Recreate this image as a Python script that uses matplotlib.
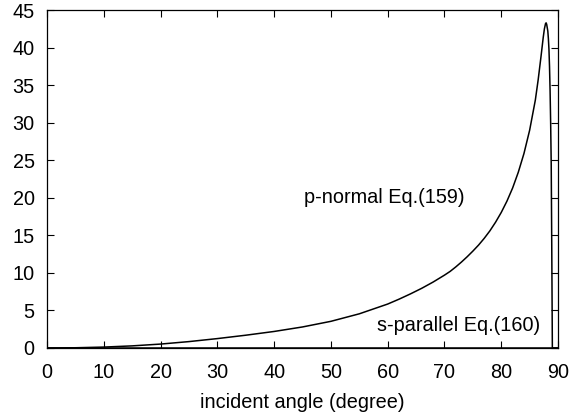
import matplotlib
matplotlib.use("Agg")
import matplotlib.pyplot as plt

plt.rcParams['font.family'] = ['Liberation Sans', 'DejaVu Sans']

# p-normal Eq.(159) values
p_angle = [0, 5, 10, 15, 20, 25, 30, 35, 40, 45, 50, 55, 60, 62, 64, 66, 68,
           70, 71, 72, 73, 74, 75, 76, 77, 78, 79, 80, 81, 82, 83, 84, 85, 86,
           86.5, 87.0, 87.4, 87.6, 87.8, 87.9, 88.0, 88.2, 88.3, 88.4, 88.5,
           88.6, 88.7, 88.8, 88.9, 89.0, 90]
p_value = [0, 0.03, 0.12, 0.28, 0.52, 0.85, 1.25, 1.7, 2.2, 2.8, 3.55, 4.55,
           5.85, 6.5, 7.2, 7.95, 8.78, 9.7, 10.2, 10.8, 11.45, 12.15, 12.9,
           13.7, 14.6, 15.6, 16.75, 18.05, 19.55, 21.3, 23.4, 25.9, 29.0, 33.0,
           35.7, 38.8, 41.4, 42.5, 43.2, 43.3, 43.1, 42.2, 41.2, 39.8, 37.5,
           34.3, 30.0, 24.5, 13.0, 0, 0]

# s-parallel Eq.(160) values (lie on the zero line)
s_angle = [0, 30, 60, 80, 85, 88, 89, 90]
s_value = [0, 0, 0, 0, 0, 0, 0, 0]

x_ticks = [0, 10, 20, 30, 40, 50, 60, 70, 80, 90]
y_ticks = [0, 5, 10, 15, 20, 25, 30, 35, 40, 45]

fig = plt.figure(figsize=(5.70, 4.19), dpi=100)
ax = fig.add_axes([0.0825, 0.1695, 0.8965, 0.8065])

ax.plot(p_angle, p_value, color='black', lw=1.1)
ax.plot(s_angle, s_value, color='black', lw=1.1)

ax.set_xlim(0, 90)
ax.set_ylim(0, 45)
ax.set_xticks(x_ticks)
ax.set_yticks(y_ticks)
ax.tick_params(direction='in', top=True, right=True, length=5, width=0.8,
               labelsize=14.3, colors='black')
ax.tick_params(axis='x', pad=11)
ax.tick_params(axis='y', pad=9)
for s in ax.spines.values():
    s.set_linewidth(0.9)

ax.set_xlabel('incident angle (degree)', fontsize=14.3, labelpad=8)

ax.text(73.6, 20, 'p-normal Eq.(159)', ha='right', va='center', fontsize=14.3)
ax.text(86.8, 3, 's-parallel Eq.(160)', ha='right', va='center', fontsize=14.3)

fig.savefig('out.png', dpi=100)
